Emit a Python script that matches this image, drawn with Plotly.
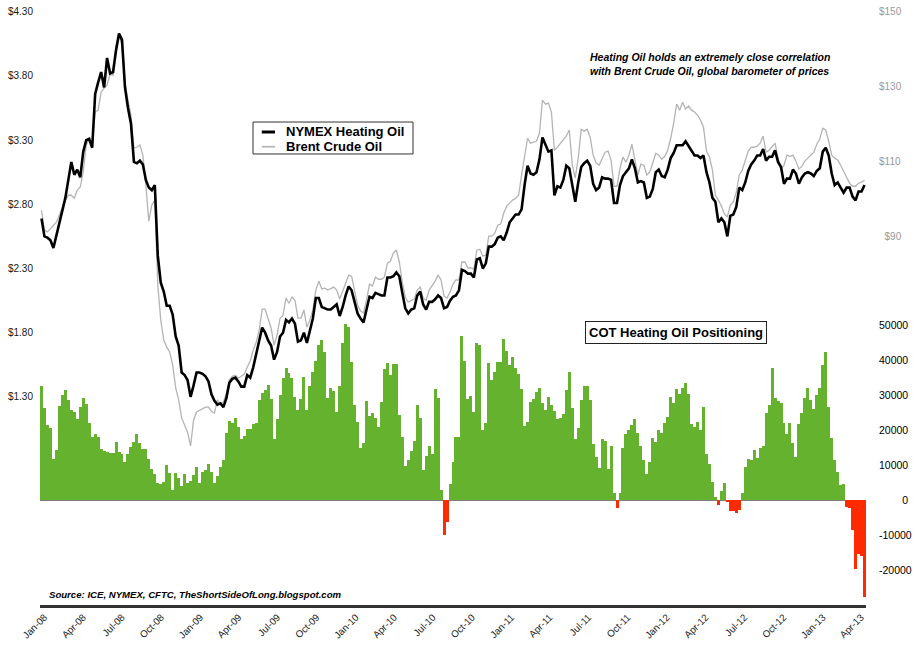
import pandas as pd
import plotly.graph_objects as go

# ---------------- data (weekly, from first week of Jan 2008) ----------------
heating_oil = [
    2.69, 2.55, 2.54, 2.52, 2.46, 2.56, 2.65, 2.76, 2.85, 2.99,
    3.13, 3.03, 3.07, 3.01, 3.21, 3.30, 3.31, 3.24, 3.66, 3.75,
    3.83, 3.71, 3.94, 3.82, 3.83, 4.00, 4.13, 4.08, 3.71, 3.55,
    3.43, 3.13, 3.12, 3.14, 3.11, 2.99, 2.93, 2.91, 2.95, 2.40,
    2.19, 2.12, 2.01, 2.01, 1.94, 1.77, 1.70, 1.49, 1.47, 1.43,
    1.30, 1.39, 1.49, 1.49, 1.48, 1.46, 1.42, 1.32, 1.27, 1.24,
    1.25, 1.22, 1.29, 1.41, 1.44, 1.45, 1.42, 1.38, 1.38, 1.47,
    1.45, 1.53, 1.63, 1.74, 1.84, 1.80, 1.74, 1.70, 1.59, 1.65,
    1.77, 1.80, 1.90, 1.88, 1.91, 1.87, 1.73, 1.74, 1.80, 1.72,
    1.82, 1.91, 2.07, 2.07, 2.00, 1.99, 1.98, 1.98, 2.00, 2.02,
    1.93, 2.00, 2.09, 2.16, 2.13, 2.03, 1.95, 1.91, 1.88, 1.98,
    2.08, 2.07, 2.11, 2.10, 2.09, 2.09, 2.23, 2.23, 2.24, 2.27,
    2.24, 2.11, 1.99, 1.95, 1.98, 1.99, 2.09, 2.12, 2.02, 1.98,
    2.04, 2.04, 2.06, 2.09, 2.07, 1.99, 2.00, 2.05, 2.08, 2.09,
    2.13, 2.29, 2.28, 2.26, 2.26, 2.23, 2.37, 2.38, 2.30, 2.34,
    2.47, 2.47, 2.49, 2.54, 2.55, 2.52, 2.58, 2.66, 2.69, 2.72,
    2.72, 2.76, 2.95, 3.10, 3.04, 3.03, 3.05, 3.15, 3.32, 3.27,
    3.21, 3.22, 2.87, 2.94, 2.93, 2.99, 3.10, 3.08, 2.95, 2.82,
    2.97, 3.09, 3.12, 3.14, 3.10, 2.96, 2.91, 2.93, 3.01, 3.00,
    3.00, 2.99, 2.81, 2.81, 2.95, 3.02, 3.05, 3.08, 3.15, 3.08,
    2.97, 2.98, 2.97, 2.85, 2.86, 2.92, 3.05, 3.07, 3.02, 3.01,
    3.07, 3.16, 3.20, 3.26, 3.26, 3.26, 3.29, 3.25, 3.21, 3.18,
    3.18, 3.16, 3.18, 3.05, 2.97, 2.85, 2.82, 2.66, 2.69, 2.66,
    2.55, 2.71, 2.72, 2.78, 2.93, 2.91, 2.97, 3.06, 3.11, 3.14,
    3.18, 3.18, 3.23, 3.14, 3.17, 3.17, 3.22, 3.13, 3.09, 2.96,
    3.00, 3.00, 3.07, 3.04, 2.96, 3.01, 3.04, 3.05, 3.04, 3.02,
    3.06, 3.08, 3.21, 3.24, 3.18, 3.04, 2.95, 2.97, 2.93, 2.89,
    2.93, 2.93, 2.86, 2.83, 2.90, 2.90, 2.95,
]

brent = [
    96.9, 91.6, 91.1, 91.9, 92.7, 93.7, 95.6, 97.5, 99.6, 100.9,
    100.9, 100.1, 102.3, 103.1, 107.1, 114.3, 115.9, 114.3, 123.1, 123.6,
    128.4, 129.5, 130.3, 133.2, 132.9, 140.9, 143.6, 140.9, 131.1, 126.3,
    122.3, 113.5, 113.7, 114.3, 111.6, 103.6, 94.0, 98.3, 99.6, 76.9,
    67.6, 62.3, 60.4, 59.1, 55.6, 49.5, 46.3, 41.5, 39.6, 37.7,
    34.0, 40.9, 43.1, 43.6, 44.1, 44.4, 44.4, 43.3, 42.8, 46.3,
    45.2, 45.7, 48.1, 51.6, 52.6, 52.9, 52.1, 52.6, 53.2, 55.1,
    56.7, 59.6, 61.7, 64.9, 70.5, 70.5, 68.1, 65.5, 60.9, 63.6,
    68.1, 68.9, 73.5, 72.1, 73.7, 72.9, 68.1, 68.1, 70.3, 65.7,
    67.6, 70.3, 75.6, 78.0, 75.9, 76.1, 75.6, 75.9, 76.4, 75.6,
    73.2, 75.3, 77.2, 79.6, 79.3, 75.3, 71.6, 70.0, 69.5, 72.9,
    77.2, 76.7, 79.1, 78.5, 78.5, 79.1, 82.8, 83.3, 85.5, 86.3,
    83.1, 77.7, 73.7, 72.4, 72.9, 73.2, 75.6, 76.4, 73.5, 72.9,
    75.6, 76.7, 78.0, 79.6, 78.3, 74.0, 73.5, 75.1, 77.2, 78.3,
    78.3, 83.1, 83.1, 81.5, 81.5, 81.2, 86.3, 86.5, 84.7, 84.9,
    90.0, 90.0, 90.8, 92.9, 93.2, 96.1, 98.0, 98.8, 99.6, 100.1,
    100.9, 106.3, 111.6, 116.1, 114.8, 115.1, 115.3, 117.5, 126.3, 125.2,
    125.5, 123.1, 112.9, 113.7, 114.8, 115.9, 116.7, 118.3, 108.9, 105.5,
    110.8, 118.5, 118.0, 118.5, 116.4, 111.6, 109.5, 108.9, 110.8, 112.4,
    112.7, 110.3, 103.3, 103.3, 108.1, 111.1, 109.7, 111.6, 114.5, 110.5,
    106.3, 109.2, 108.9, 106.3, 107.1, 109.5, 112.1, 111.6, 110.5, 111.3,
    112.9, 116.1, 120.1, 125.2, 123.6, 125.7, 123.9, 124.7, 123.6, 123.1,
    122.3, 120.9, 119.1, 112.7, 111.1, 107.6, 100.9, 99.6, 98.0, 95.9,
    95.1, 98.3, 99.1, 101.7, 106.3, 107.6, 110.3, 112.7, 113.7, 113.7,
    114.0, 114.8, 116.7, 112.4, 112.9, 114.0, 114.8, 110.8, 107.9, 108.9,
    111.6, 111.3, 111.6, 110.0, 107.9, 108.6, 110.0, 110.8, 111.6, 112.4,
    114.5, 115.9, 118.8, 118.3, 115.3, 111.6, 110.8, 110.3, 108.9, 107.1,
    105.7, 104.1, 103.3, 103.3, 104.1, 104.4, 104.9,
]

cot_net = [
    32560, 26180, 21420, 20470, 11700, 14280, 26850, 29990, 31420, 28560,
    25700, 25230, 23130, 26470, 29040, 27420, 21900, 17900, 18760, 17900,
    14570, 14090, 13710, 13520, 13330, 16470, 13610, 13040, 10950, 13140,
    15040, 16470, 18760, 16180, 14570, 14470, 11710, 8850, 7430, 4760,
    4570, 5240, 10000, 7620, 2860, 7620, 6190, 4090, 7430, 4760,
    5430, 7140, 9520, 4760, 8090, 8570, 10280, 8090, 4760, 6950,
    9520, 11420, 19040, 22560, 21900, 23320, 20750, 17420, 18280, 20280,
    20280, 21710, 21900, 28560, 30650, 31420, 32840, 28840, 17420, 23040,
    29990, 34750, 37600, 36180, 34750, 29320, 25700, 28840, 35030, 25700,
    32650, 36650, 39790, 44270, 45700, 42370, 29040, 31890, 31230, 25230,
    32560, 44930, 50260, 49310, 39510, 27130, 22370, 14950, 16180, 28370,
    24090, 24750, 23320, 20750, 28080, 37320, 39030, 35700, 38840, 38750,
    24280, 17900, 9810, 11420, 13990, 16850, 27130, 23320, 8570, 12570,
    15420, 13140, 31700, 29040, 2860,
    -10000, -6190, 4570, 10760, 18090, 18090, 46930, 39700, 28840, 29700,
    25040, 44740, 44270, 19990, 21900, 39220, 34270, 36460, 39510, 39320,
    45980, 42550, 38560, 40940, 37600, 35990, 31700, 21130, 22370, 28080,
    28840, 30750, 31890, 27610, 25700, 29320, 27130, 25420, 23130, 23510,
    24470, 31420, 36460, 26370, 17420, 20470, 28560, 32560, 32650, 28560,
    15900, 12380, 9040, 17420, 16950, 8850, 15420, 2090, -2190, 2090,
    14950, 18760, 19990, 21420, 23130, 19040, 15420, 11420, 7430, 10950,
    17610, 16660, 19990, 19040, 22090, 23610, 29320, 27800, 31610, 30270,
    31890, 33320, 30270, 21710, 20940, 22370, 19990, 26660, 13040, 10280,
    5240, 950, -1430, 2670, 4760, -480, -3050, -3050, -3810, -2860,
    1900, 9330, 11610, 11420, 14280, 12090, 14760, 15520, 24750, 27130,
    37600, 29040, 28370, 27610, 21900, 18760, 21900, 16180, 12380, 21610,
    24750, 29040, 31890, 28560, 25890, 29990, 31890, 38560, 42170, 26660,
    17800, 11420, 8090, 4280, 4570, -1900, -2190, -8570, -19800, -15500,
    -16000, -27800,
]

start_date = "2008-01-01"
tick_dates = pd.date_range("2008-01-01", "2013-04-01", freq="QS")
ho_ticks = [1.30, 1.80, 2.30, 2.80, 3.30, 3.80, 4.30]
brent_ticks = [90, 110, 130, 150]
cot_ticks = [-20000, -10000, 0, 10000, 20000, 30000, 40000, 50000]

# ---------------- build ----------------
d_cot = pd.date_range(start_date, periods=len(cot_net), freq="7D")
d_ho = pd.date_range(start_date, periods=len(heating_oil), freq="7D")
d_br = pd.date_range(start_date, periods=len(brent), freq="7D")
last = max(d_cot[-1], d_ho[-1], d_br[-1])
x_range = [d_cot[0] - pd.Timedelta(hours=84), last + pd.Timedelta(hours=84)]

GREEN = "#64B22E"
RED = "#FF2B00"
FONT = "Liberation Sans"

fig = go.Figure()
fig.add_trace(go.Bar(
    x=d_cot, y=cot_net, yaxis="y",
    marker=dict(color=[GREEN if v >= 0 else RED for v in cot_net], line=dict(width=0)),
    showlegend=False, name="COT Heating Oil Positioning",
))
fig.add_trace(go.Scatter(
    x=d_br, y=brent, yaxis="y2", mode="lines", name="Brent Crude Oil",
    line=dict(color="#B4B4B4", width=1.3), showlegend=False,
))
fig.add_trace(go.Scatter(
    x=d_ho, y=heating_oil, yaxis="y3", mode="lines", name="NYMEX Heating Oil",
    line=dict(color="#000000", width=2.6), showlegend=False,
))


def money(v, dec, width=0):
    s = ("%." + str(dec) + "f") % v
    return "\u2007" * max(0, width - len(s)) + "$" + s


def pad(v):
    s = str(v)
    core = s.lstrip("-")
    return ("-" if v < 0 else "") + "\u2007" * (5 - len(core)) + core


# hand-made legend box (paper coordinates of the plot area)
legend_items = [("NYMEX Heating Oil", "#000000", 2.6, 0.7963),
                ("Brent Crude Oil", "#B4B4B4", 1.3, 0.7715)]
shapes = [dict(type="rect", xref="paper", yref="paper", x0=0.2579, x1=0.4516,
               y0=0.7593, y1=0.8131, line=dict(color="#333333", width=1),
               fillcolor="white", layer="above")]
legend_ann = []
for label, col, w, yy in legend_items:
    shapes.append(dict(type="line", xref="paper", yref="paper", x0=0.2685, x1=0.2845,
                       y0=yy, y1=yy, line=dict(color=col, width=w + 0.4), layer="above"))
    legend_ann.append(dict(xref="paper", yref="paper", x=0.2960, y=yy, xanchor="left",
                           yanchor="middle", showarrow=False, text=label,
                           font=dict(family=FONT, size=13, color="#000", weight="bold")))

fig.update_layout(
    width=917, height=650,
    margin=dict(l=40, r=51, t=11, b=45),
    paper_bgcolor="white", plot_bgcolor="white",
    font=dict(family=FONT, size=10, color="#111"),
    bargap=0, showlegend=False,
    xaxis=dict(
        type="date", range=x_range, tickvals=tick_dates, tickformat="%b-%y",
        tickangle=-45, ticks="", showgrid=False, zeroline=False, automargin=False,
        showline=True, linecolor="#333333", linewidth=2.5,
        tickfont=dict(size=9.8, color="#222"), ticklabelshift=3,
    ),
    yaxis=dict(
        range=[-30000, 139714], side="right", anchor="x", automargin=False,
        tickvals=cot_ticks, ticktext=[pad(v) for v in cot_ticks],
        showgrid=False, zeroline=True, zerolinecolor="#7f7f7f", zerolinewidth=1,
        showline=False, ticks="", ticklabelstandoff=12,
        tickfont=dict(size=10.5, color="#000"),
    ),
    yaxis2=dict(
        range=[-8.4, 150.05], side="right", overlaying="y", anchor="x", automargin=False,
        tickvals=brent_ticks, ticktext=[money(v, 0, 3) for v in brent_ticks],
        showgrid=False, zeroline=False, showline=False, ticks="",
        ticklabelstandoff=12, tickfont=dict(size=10, color="#999999"),
    ),
    yaxis3=dict(
        range=[-0.321, 4.3055], side="left", overlaying="y", anchor="x", automargin=False,
        tickvals=ho_ticks, ticktext=[money(v, 2) for v in ho_ticks],
        showgrid=False, zeroline=False, showline=False, ticks="",
        ticklabelstandoff=6, tickfont=dict(size=10, color="#1a1a1a"),
    ),
    shapes=shapes,
    annotations=legend_ann + [
        dict(
            xref="paper", yref="paper", x=0.663, y=0.911, xanchor="left", yanchor="middle",
            align="left", showarrow=False,
            text="<i>Heating Oil holds an extremely close correlation<br>with Brent Crude Oil, global barometer of prices</i>",
            font=dict(family=FONT, size=10.5, color="#000", weight="bold"),
        ),
        dict(
            xref="paper", yref="paper", x=0.770, y=0.458, xanchor="center", yanchor="middle",
            showarrow=False, text="COT Heating Oil Positioning",
            font=dict(family=FONT, size=13, color="#000", weight="bold"),
            bordercolor="#222", borderwidth=1, borderpad=3, bgcolor="white",
        ),
        dict(
            xref="paper", yref="paper", x=0.0085, y=0.017, xanchor="left", yanchor="middle",
            showarrow=False,
            text="<i>Source: ICE, NYMEX, CFTC, TheShortSideOfLong.blogspot.com</i>",
            font=dict(family=FONT, size=9.6, color="#000", weight="bold"),
        ),
    ],
)

# remove the browser's default 8px page margin so the figure sits at (0, 0)
fig.write_html("out.html", config={"displayModeBar": False},
               post_script="document.body.style.margin='0';")
